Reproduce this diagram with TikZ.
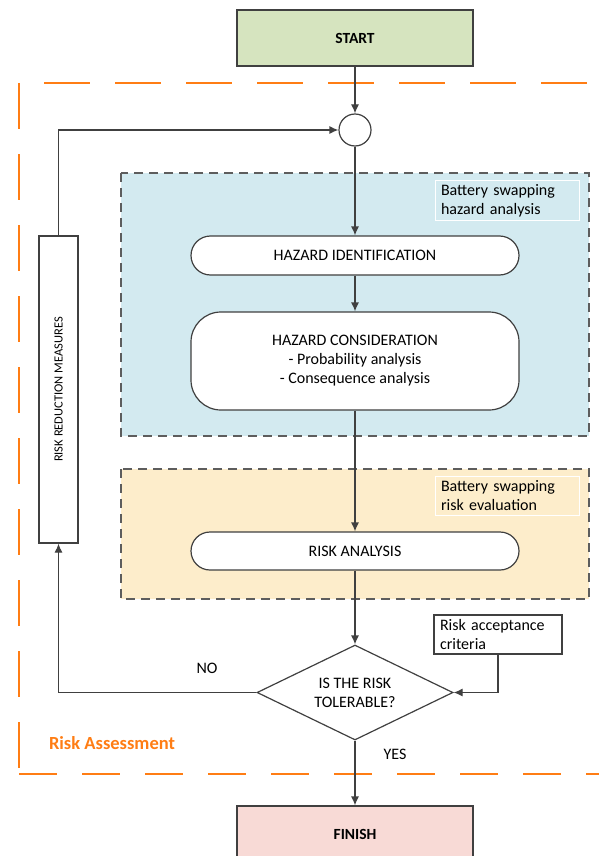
\documentclass[tikz,border=0pt]{standalone}
\usepackage{fontspec}
\setmainfont{Carlito}
\usetikzlibrary{shapes.geometric,arrows.meta}
\definecolor{startgreen}{RGB}{214,228,191}
\definecolor{finishpink}{RGB}{248,218,214}
\definecolor{hazblue}{RGB}{211,234,240}
\definecolor{evalyellow}{RGB}{253,237,203}
\definecolor{zoneorange}{RGB}{255,125,20}
\definecolor{linegray}{RGB}{64,64,64}
\tikzset{
  txt/.style={font=\fontsize{16}{19}\selectfont},
  termbox/.style={draw=linegray,line width=1.2pt,minimum width=236pt,minimum height=56pt,font=\fontsize{15.5}{19}\selectfont\bfseries},
  stepbox/.style={draw=linegray,fill=white,line width=1.2pt,minimum width=328pt,txt,align=center},
  areabox/.style={draw=linegray!85,line width=1.3pt,dash pattern=on 9pt off 6pt},
  tagbox/.style={draw=white,line width=0.8pt,minimum width=144pt,minimum height=39pt,text width=132pt,inner xsep=6pt,align=left,txt},
  flow/.style={draw=linegray,line width=1.2pt,->},
}
\begin{document}
\begin{tikzpicture}[x=1pt,y=-1pt,>={Latex[length=9pt,width=8pt]}]
		\useasboundingbox (0,0) rectangle (599,856);
		%zones
		\fill[hazblue] (121,173) rectangle (589,436);
		\draw[areabox] (121,173) rectangle (589,436);
		\fill[evalyellow] (121,469) rectangle (589,599);
		\draw[areabox] (121,469) rectangle (589,599);
		\node[tagbox,fill=hazblue] (hazardtag) at (507,200.5) {Battery swapping\\hazard analysis};
		\node[tagbox,fill=evalyellow] (evaltag) at (507,496) {Battery swapping\\risk evaluation};
		%steps
		\node[termbox,fill=startgreen] (start) at (355,38) {START};
		\node[circle,draw=linegray,fill=white,line width=1.2pt,minimum size=32pt,inner sep=0pt] (join) at (355,130) {};
		\node[stepbox,minimum height=39pt,rounded corners=19.5pt] (hazid) at (355,255.5) {HAZARD IDENTIFICATION};
		\node[stepbox,minimum height=98pt,rounded corners=30pt] (hazcons) at (355,361) {HAZARD CONSIDERATION\\- Probability analysis\\- Consequence analysis};
		\node[stepbox,minimum height=38pt,rounded corners=19pt] (riskan) at (355,551) {RISK ANALYSIS};
		\node[diamond,aspect=2,draw=linegray,fill=white,line width=1.2pt,minimum width=196pt,minimum height=95pt,inner sep=0pt,txt,align=center] (tolerable) at (355,692.5) {IS THE RISK\\TOLERABLE?};
		\node[draw=linegray,line width=1.2pt,minimum width=128pt,minimum height=39pt,text width=116pt,inner xsep=6pt,align=left,txt] (criteria) at (498,634.5) {Risk acceptance\\criteria};
		\node[draw=linegray,fill=white,line width=1.2pt,rotate=90,minimum width=307pt,minimum height=39pt,inner sep=0pt,font=\fontsize{12.5}{15}\selectfont] (measures) at (58.5,389.5) {RISK REDUCTION MEASURES};
		\node[termbox,fill=finishpink] (finish) at (355,834) {FINISH};
		%risk assessment zone
		\draw[zoneorange,line width=2.4pt,dash pattern=on 46pt off 25pt,dash phase=46pt] (19,83)--(599,83) ;
		\draw[zoneorange,line width=2.4pt,dash pattern=on 46pt off 25pt] (19,83)--(19,774) ;
		\draw[zoneorange,line width=2.4pt,dash pattern=on 38pt off 25pt] (19,774)--(599,774) ;
		\node[font=\fontsize{18.5}{22}\selectfont\bfseries,text=zoneorange] (zonename) at (112,743) {Risk Assessment};
		%connectors
		\draw[flow] (start)--(join) ;
		\draw[flow] (join)--(hazid) ;
		\draw[flow] (hazid)--(hazcons) ;
		\draw[flow] (hazcons)--(riskan) ;
		\draw[flow] (riskan)--(tolerable) ;
		\draw[flow] (tolerable)--(finish) ;
		\draw[flow] (tolerable.west)-|(measures.west) ;
		\draw[flow] (measures.east)|-(join.west) ;
		\draw[flow] (criteria.south)|-(tolerable.east) ;
		%labels
		\node[txt] (nolabel) at (207,668) {NO};
		\node[txt] (yeslabel) at (395,754) {YES};
	\end{tikzpicture}
\end{document}
